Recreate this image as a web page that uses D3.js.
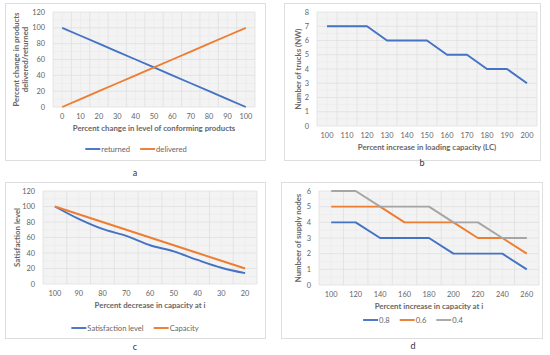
<!DOCTYPE html>
<html>
<head>
<meta charset="utf-8">
<script src="https://cdn.jsdelivr.net/npm/d3@7"></script>
<style>
  body { margin: 0; background: #fff; }
  svg { font-family: Lato, "Open Sans", sans-serif; }
</style>
</head>
<body>
<svg id="chart" width="550" height="355"></svg>
<script>
// panel a
let catsA = [0, 10, 20, 30, 40, 50, 60, 70, 80, 90, 100];
let returnedA = [100, 90, 80, 70, 60, 50, 40, 30, 20, 10, 0];
let deliveredA = [0, 10, 20, 30, 40, 50, 60, 70, 80, 90, 100];
let ticksA = [0, 20, 40, 60, 80, 100, 120];

// panel b
let catsB = [100, 110, 120, 130, 140, 150, 160, 170, 180, 190, 200];
let trucksB = [7, 7, 7, 6, 6, 6, 5, 5, 4, 4, 3];
let ticksB = [0, 1, 2, 3, 4, 5, 6, 7, 8];

// panel c
let catsC = [100, 90, 80, 70, 60, 50, 40, 30, 20];
let satisfactionC = [100, 84, 71, 62, 50, 42, 31, 21, 14];
let capacityC = [100, 90, 80, 70, 60, 50, 40, 30, 20];
let ticksC = [0, 20, 40, 60, 80, 100, 120];

// panel d
let catsD = [100, 120, 140, 160, 180, 200, 220, 240, 260];
let nodes08 = [4, 4, 3, 3, 3, 2, 2, 2, 1];
let nodes06 = [5, 5, 5, 4, 4, 4, 3, 3, 2];
let nodes04 = [6, 6, 5, 5, 5, 4, 4, 3, 3];
let ticksD = [0, 1, 2, 3, 4, 5, 6];

const blue = "#4472C4", orange = "#ED7D31", grey = "#A5A5A5";
const txt = "#666";

let svg = d3.select("#chart");

function drawPanel(p) {
    let g = svg.append("g");

    // outer frame
    g.append("rect")
        .attr("x", p.box[0] + 0.5).attr("y", p.box[1] + 0.5)
        .attr("width", p.box[2]).attr("height", p.box[3])
        .attr("fill", "#fff").attr("stroke", "#dedede");

    let x = d3.scalePoint().domain(p.cats).range([p.left, p.right]).padding(0.5);
    let y = d3.scaleLinear().domain([0, p.ticks[p.ticks.length - 1]]).range([p.bottom, p.top]);
    let step = x.step();

    // plot area
    g.append("rect")
        .attr("x", p.left).attr("y", p.top)
        .attr("width", p.right - p.left).attr("height", p.bottom - p.top)
        .attr("fill", "#f3f3f3");

    // minor + major gridlines
    let half = (p.ticks[1] - p.ticks[0]) / 2;
    let hMinor = p.ticks.slice(0, -1).map(t => t + half);
    g.selectAll(".hmin").data(hMinor).enter().append("line")
        .attr("x1", p.left).attr("x2", p.right)
        .attr("y1", d => y(d)).attr("y2", d => y(d))
        .attr("stroke", "#ebebeb").attr("stroke-width", 0.7);
    g.selectAll(".vmin").data(p.cats).enter().append("line")
        .attr("x1", d => x(d)).attr("x2", d => x(d))
        .attr("y1", p.top).attr("y2", p.bottom)
        .attr("stroke", "#ebebeb").attr("stroke-width", 0.7);
    g.selectAll(".hmaj").data(p.ticks).enter().append("line")
        .attr("x1", p.left).attr("x2", p.right)
        .attr("y1", d => y(d)).attr("y2", d => y(d))
        .attr("stroke", "#e0e0e0").attr("stroke-width", 0.8);
    g.selectAll(".vmaj").data(d3.range(p.cats.length + 1)).enter().append("line")
        .attr("x1", i => p.left + i * step).attr("x2", i => p.left + i * step)
        .attr("y1", p.top).attr("y2", p.bottom)
        .attr("stroke", "#e0e0e0").attr("stroke-width", 0.8);

    // y axis labels
    g.selectAll(".ytick").data(p.ticks).enter().append("text")
        .attr("x", p.left - 8).attr("y", d => y(d) + 2.6)
        .attr("text-anchor", "end").attr("font-size", "7.4px").attr("fill", txt)
        .text(d => d);

    // x axis labels
    g.selectAll(".xtick").data(p.cats).enter().append("text")
        .attr("x", d => x(d)).attr("y", p.bottom + 12)
        .attr("text-anchor", "middle").attr("font-size", "7.4px").attr("fill", txt)
        .text(d => d);

    // axis titles
    g.append("text")
        .attr("x", (p.left + p.right) / 2).attr("y", p.bottom + 24)
        .attr("text-anchor", "middle").attr("font-size", "7.8px")
        .attr("font-weight", "bold").attr("fill", txt)
        .text(p.xTitle);

    let yt = g.append("text")
        .attr("transform", `translate(${p.yTitleX},${(p.top + p.bottom) / 2}) rotate(-90)`)
        .attr("text-anchor", "middle").attr("font-size", "7.8px")
        .attr("font-weight", "bold").attr("fill", txt);
    p.yTitle.forEach((t, i) => {
        yt.append("tspan").attr("x", 0).attr("dy", i == 0 ? 0 : "1.15em").text(t);
    });

    // series
    p.series.forEach(s => {
        let line = d3.line()
            .x((d, i) => x(p.cats[i]))
            .y(d => y(d))
            .curve(s.smooth ? d3.curveMonotoneX : d3.curveLinear);
        g.append("path")
            .datum(s.values)
            .attr("d", line)
            .attr("fill", "none")
            .attr("stroke", s.color)
            .attr("stroke-width", 1.9)
            .attr("stroke-linejoin", "round");
    });

    // legend
    if (p.legend) {
        let lg = g.append("g");
        let cx = 0;
        p.series.forEach(s => {
            lg.append("line")
                .attr("x1", cx).attr("x2", cx + 15)
                .attr("y1", 0).attr("y2", 0)
                .attr("stroke", s.color).attr("stroke-width", 1.9);
            let t = lg.append("text")
                .attr("x", cx + 16).attr("y", 2.7)
                .attr("font-size", "7.6px").attr("fill", txt)
                .text(s.name);
            cx += 16 + t.node().getComputedTextLength() + 10;
        });
        let w = cx - 10;
        lg.attr("transform", `translate(${p.legendX - w / 2},${p.legendY})`);
    }

    // panel letter
    g.append("text")
        .attr("x", p.labelX).attr("y", p.labelY)
        .attr("text-anchor", "middle").attr("font-size", "9px").attr("fill", "#333")
        .text(p.label);
}

drawPanel({
    box: [5, 3, 260, 157], left: 53, right: 255, top: 12, bottom: 107,
    cats: catsA, ticks: ticksA,
    xTitle: "Percent change in level of conforming products",
    yTitle: ["Percent change in  products", "delivered/returned"], yTitleX: 19,
    series: [
        {name: "returned", values: returnedA, color: blue},
        {name: "delivered", values: deliveredA, color: orange}
    ],
    legend: true, legendX: 136, legendY: 149,
    label: "a", labelX: 135, labelY: 176
});

drawPanel({
    box: [284, 3, 256, 157], left: 317, right: 537, top: 12, bottom: 126,
    cats: catsB, ticks: ticksB,
    xTitle: "Percent increase in loading capacity (LC)",
    yTitle: ["Number of trucks (NW)"], yTitleX: 301,
    series: [
        {name: "trucks", values: trucksB, color: blue}
    ],
    legend: false,
    label: "b", labelX: 422, labelY: 166
});

drawPanel({
    box: [5, 182, 260, 156], left: 43, right: 257, top: 191, bottom: 284,
    cats: catsC, ticks: ticksC,
    xTitle: "Percent decrease in capacity at i",
    yTitle: ["Satisfaction level"], yTitleX: 20,
    series: [
        {name: "Satisfaction level", values: satisfactionC, color: blue, smooth: true},
        {name: "Capacity", values: capacityC, color: orange}
    ],
    legend: true, legendX: 135, legendY: 328,
    label: "c", labelX: 135, labelY: 350
});

drawPanel({
    box: [281, 182, 261, 156], left: 319, right: 539, top: 191, bottom: 285,
    cats: catsD, ticks: ticksD,
    xTitle: "Percent increase in capacity at i",
    yTitle: ["Numbeer of supply nodes"], yTitleX: 301,
    series: [
        {name: "0.8", values: nodes08, color: blue},
        {name: "0.6", values: nodes06, color: orange},
        {name: "0.4", values: nodes04, color: grey}
    ],
    legend: true, legendX: 413, legendY: 320,
    label: "d", labelX: 413, labelY: 349
});
</script>
</body>
</html>
